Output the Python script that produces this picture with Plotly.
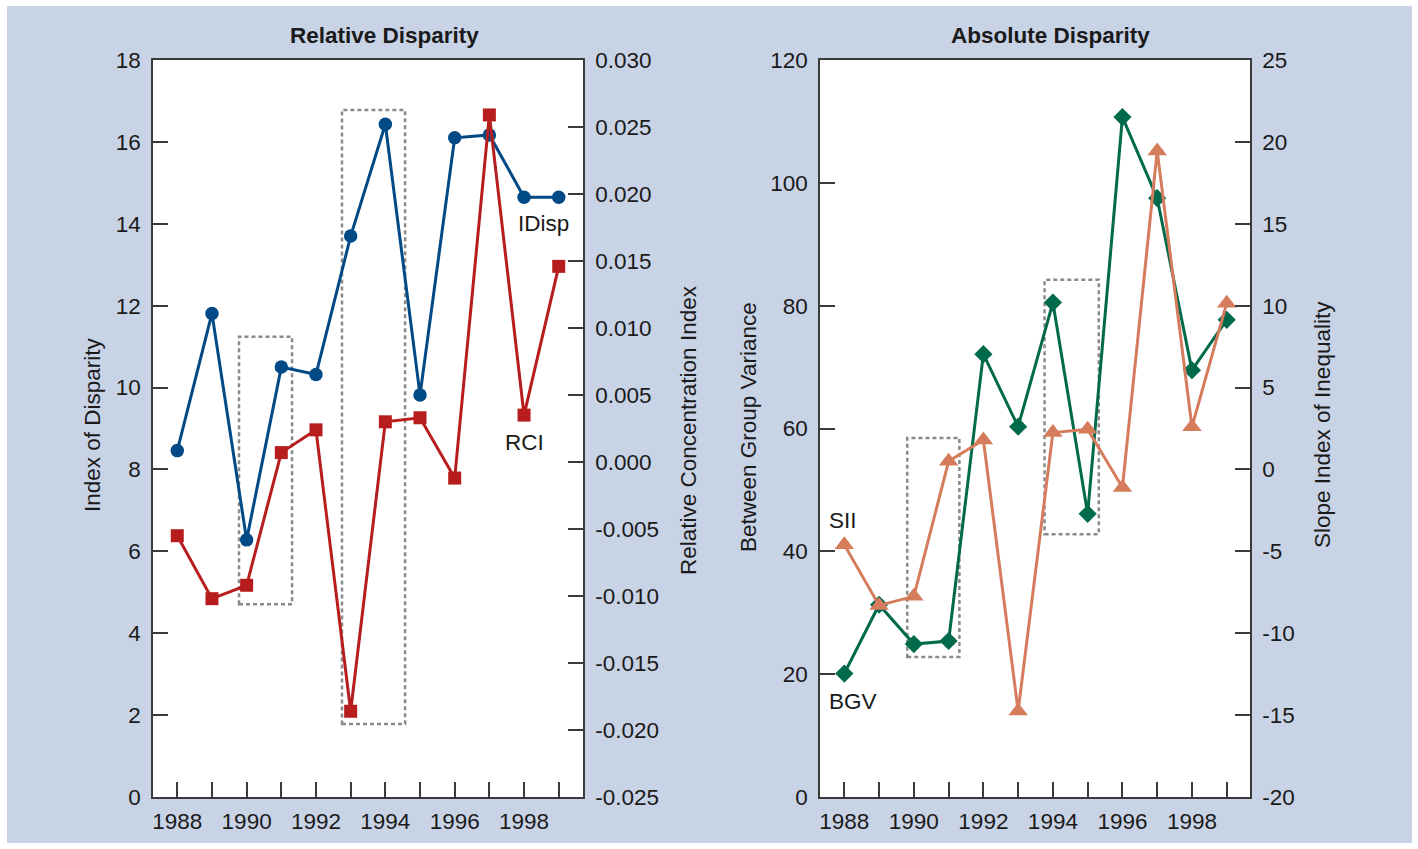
import plotly.graph_objects as go

W, H = 1418, 849

years = list(range(1988, 2000))
xtick_vals = list(range(1988, 2000))
xtick_text = ["1988", "", "1990", "", "1992", "", "1994", "", "1996", "", "1998", ""]

idisp = [8.46, 11.81, 6.28, 10.50, 10.32, 13.70, 16.43, 9.82, 16.10, 16.17, 14.65, 14.65]
rci = [-0.0055, -0.0102, -0.0092, 0.0007, 0.0024, -0.0186, 0.0030, 0.0033, -0.0012, 0.0259, 0.0035, 0.0146]
bgv = [20.1, 31.3, 24.9, 25.4, 72.1, 60.3, 80.5, 46.1, 110.7, 97.5, 69.5, 77.7]
sii = [-4.6, -8.3, -7.75, 0.5, 1.8, -14.75, 2.25, 2.45, -1.1, 19.45, 2.6, 10.15]

y1_vals = [0, 2, 4, 6, 8, 10, 12, 14, 16, 18]
y2_vals = [-0.025, -0.020, -0.015, -0.010, -0.005, 0.000, 0.005, 0.010, 0.015, 0.020, 0.025, 0.030]
y2_text = ["-0.025", "-0.020", "-0.015", "-0.010", "-0.005", "0.000", "0.005", "0.010", "0.015", "0.020", "0.025", "0.030"]
y3_vals = [0, 20, 40, 60, 80, 100, 120]
y4_vals = [-20, -15, -10, -5, 0, 5, 10, 15, 20, 25]
y4_text = ["-20", "-15", "-10", "-5", "0", "5", "10", "15", "20", "25"]

# highlight boxes: (x0, x1, y0, y1) in data units of the left axis of each panel
left_boxes = [(1989.78, 1991.31, 4.71, 11.24), (1992.75, 1994.57, 1.78, 16.78)]
right_boxes = [(1989.81, 1991.31, 22.8, 58.45), (1993.76, 1995.32, 42.8, 84.2)]

BLUE = "#024a86"
RED = "#b81d1e"
GREEN = "#006a4a"
ORANGE = "#d57c5c"
BG = "#c9d3e6"
AX = "#3a3a3a"
FONT = "Liberation Sans, Arial, sans-serif"
FS = 22.5

fig = go.Figure()
fig.add_trace(go.Scatter(x=years, y=rci, xaxis="x", yaxis="y2", mode="lines+markers",
                         line=dict(color=RED, width=3),
                         marker=dict(symbol="square", size=13, color=RED)))
fig.add_trace(go.Scatter(x=years, y=idisp, xaxis="x", yaxis="y", mode="lines+markers",
                         line=dict(color=BLUE, width=3),
                         marker=dict(symbol="circle", size=13.5, color=BLUE)))
fig.add_trace(go.Scatter(x=years, y=sii, xaxis="x2", yaxis="y4", mode="lines+markers",
                         line=dict(color=ORANGE, width=3),
                         marker=dict(symbol="triangle-up", size=17, color=ORANGE)))
fig.add_trace(go.Scatter(x=years, y=bgv, xaxis="x2", yaxis="y3", mode="lines+markers",
                         line=dict(color=GREEN, width=3),
                         marker=dict(symbol="diamond", size=14, color=GREEN)))

xl = [153 / W, 583 / W]
xr = [820 / W, 1250 / W]
yd = [(H - 797) / H, (H - 60) / H]

tickfont = dict(family=FONT, size=FS, color="#1a1a1a")
common_x = dict(showline=True, linecolor=AX, linewidth=1.5, mirror=True, ticks="inside",
                ticklen=15, tickwidth=1.5, tickcolor=AX, tickvals=xtick_vals, ticktext=xtick_text,
                showgrid=False, zeroline=False, tickfont=tickfont, ticklabelstandoff=3,
                automargin=False)
common_y = dict(showline=True, linecolor=AX, linewidth=1.5, ticks="inside", ticklen=15,
                tickwidth=1.5, tickcolor=AX, showgrid=False, zeroline=False, tickfont=tickfont,
                ticklabelstandoff=6, automargin=False)

fig.update_layout(
    width=W, height=H, autosize=False,
    margin=dict(l=0, r=0, t=0, b=0, pad=0, autoexpand=False),
    paper_bgcolor="white", plot_bgcolor="rgba(0,0,0,0)",
    showlegend=False,
    font=dict(family=FONT, size=FS, color="#1a1a1a"),
    xaxis=dict(domain=xl, range=[1987.3, 1999.7], anchor="y", **common_x),
    yaxis=dict(domain=yd, range=[0, 18], tickvals=y1_vals, anchor="x", **common_y),
    yaxis2=dict(range=[-0.025, 0.030], tickvals=y2_vals, ticktext=y2_text, overlaying="y",
                side="right", anchor="x", **common_y),
    xaxis2=dict(domain=xr, range=[1987.3, 1999.67], anchor="y3", **common_x),
    yaxis3=dict(domain=yd, range=[0, 120], tickvals=y3_vals, anchor="x2", **common_y),
    yaxis4=dict(range=[-20, 25], tickvals=y4_vals, ticktext=y4_text, overlaying="y3",
                side="right", anchor="x2", **common_y),
)

shapes = [dict(type="rect", xref="paper", yref="paper", x0=7 / W, x1=1412 / W,
               y0=6 / H, y1=1 - 6 / H, fillcolor=BG, line=dict(width=0), layer="below"),
          dict(type="rect", xref="x domain", yref="y domain", x0=0, x1=1, y0=0, y1=1,
               fillcolor="white", line=dict(width=0), layer="below"),
          dict(type="rect", xref="x2 domain", yref="y3 domain", x0=0, x1=1, y0=0, y1=1,
               fillcolor="white", line=dict(width=0), layer="below")]
for (a, b, c, d) in left_boxes:
    shapes.append(dict(type="rect", xref="x", yref="y", x0=a, x1=b, y0=c, y1=d,
                       line=dict(color="#8a8a8a", width=2.5, dash="4px,3px"), layer="below"))
for (a, b, c, d) in right_boxes:
    shapes.append(dict(type="rect", xref="x2", yref="y3", x0=a, x1=b, y0=c, y1=d,
                       line=dict(color="#8a8a8a", width=2.5, dash="4px,3px"), layer="below"))
fig.update_layout(shapes=shapes)

ann = []
def txt(text, x, y, xref="paper", yref="paper", angle=0, bold=False):
    ann.append(dict(text=("<b>%s</b>" % text) if bold else text, x=x, y=y, xref=xref, yref=yref,
                    showarrow=False, textangle=angle, xanchor="center", yanchor="middle",
                    font=dict(family=FONT, size=FS, color="#1a1a1a")))

txt("Relative Disparity", 384 / W, 1 - 36 / H, bold=True)
txt("Absolute Disparity", 1050 / W, 1 - 36 / H, bold=True)
txt("Index of Disparity", 92 / W, 1 - 425 / H, angle=-90)
txt("Relative Concentration Index", 688 / W, 1 - 430 / H, angle=-90)
txt("Between Group Variance", 748 / W, 1 - 427 / H, angle=-90)
txt("Slope Index of Inequality", 1322 / W, 1 - 425 / H, angle=-90)
txt("IDisp", 1998.55, 14.0, xref="x", yref="y")
txt("RCI", 1998.0, 8.65, xref="x", yref="y")
txt("SII", 1987.96, 45.1, xref="x2", yref="y3")
txt("BGV", 1988.25, 15.6, xref="x2", yref="y3")
fig.update_layout(annotations=ann)

fig.write_html(
    "out.html",
    config={"displayModeBar": False, "responsive": False},
    post_script="document.documentElement.style.margin='0';document.body.style.margin='0';"
                "document.body.style.padding='0';document.body.style.overflow='hidden';",
)
